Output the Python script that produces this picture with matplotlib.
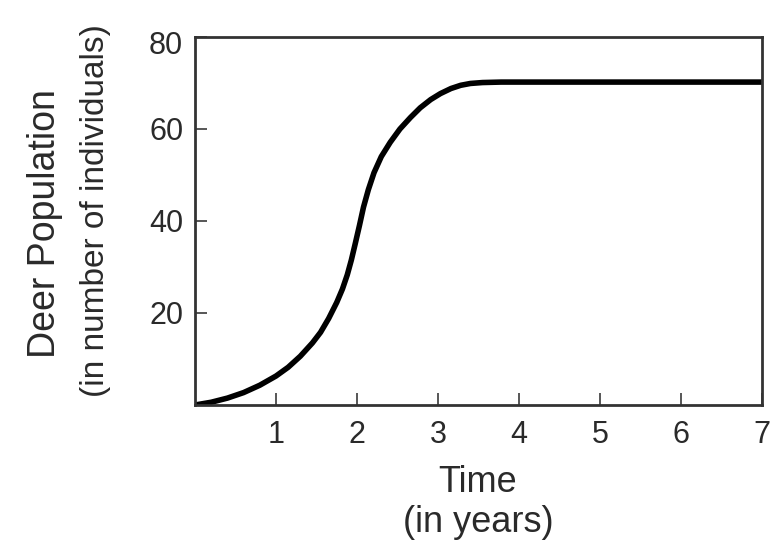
import matplotlib
matplotlib.use("Agg")
import matplotlib.pyplot as plt
from matplotlib.transforms import ScaledTranslation

plt.rcParams['font.family'] = ['Liberation Sans', 'DejaVu Sans']

# Data
time_years = [0.0, 0.2, 0.4, 0.6, 0.8, 1.0, 1.15, 1.3, 1.45, 1.55, 1.65,
              1.75, 1.82, 1.88, 1.93, 1.98, 2.03, 2.08, 2.14, 2.21, 2.3, 2.41,
              2.53, 2.66, 2.78, 2.91, 3.03, 3.16, 3.28, 3.40, 3.55, 3.78, 4.2, 7.0]
deer_pop = [0.0, 0.6, 1.5, 2.7, 4.3, 6.3, 8.2, 10.6, 13.5, 15.8, 18.8,
            22.3, 25.2, 28.3, 31.5, 35.2, 39.0, 43.0, 46.8, 50.5, 54.0, 57.1,
            60.0, 62.5, 64.6, 66.4, 67.7, 68.8, 69.5, 69.9, 70.1, 70.2, 70.2, 70.2]
x_ticks = [1, 2, 3, 4, 5, 6, 7]
y_ticks = [20, 40, 60, 80]

fig = plt.figure(figsize=(7.83, 5.57), dpi=100)
ax = fig.add_axes([195/783, 1 - 405/557, (762 - 195)/783, (405 - 37)/557])

ax.plot(time_years, deer_pop, color='black', linewidth=4.0,
        solid_capstyle='round', solid_joinstyle='round')
ax.set_xlim(0, 7)
ax.set_ylim(0, 80)
ax.set_xticks(x_ticks)
ax.set_yticks(y_ticks)
ax.set_xticklabels([str(t) for t in x_ticks])
ax.set_yticklabels([str(t) for t in y_ticks])
ax.tick_params(direction='in', length=8.5, width=1.2, colors='#3a3a3a',
               labelsize=22, labelcolor='#2a2a2a')
ax.tick_params(axis='x', pad=11)
ax.tick_params(axis='y', pad=8.5)
for s in ax.spines.values():
    s.set_linewidth(2.0)
    s.set_color('#333333')

# the top label sits a little lower in the reference
top_lbl = ax.get_yticklabels()[-1]
top_lbl.set_transform(top_lbl.get_transform() + ScaledTranslation(0, -4/72, fig.dpi_scale_trans))

fig.text(478/783, 1 - 483/557, 'Time', ha='center', va='center', fontsize=26, color='#2a2a2a')
fig.text(478/783, 1 - 522/557, '(in years)', ha='center', va='center', fontsize=26, color='#2a2a2a')
fig.text(45/783, 1 - 224/557, 'Deer Population', ha='center', va='center', rotation=90,
         fontsize=27, color='#2a2a2a')
fig.text(96/783, 1 - 211/557, '(in number of individuals)', ha='center', va='center', rotation=90,
         fontsize=24, color='#2a2a2a')

fig.savefig('out.png', dpi=100)
